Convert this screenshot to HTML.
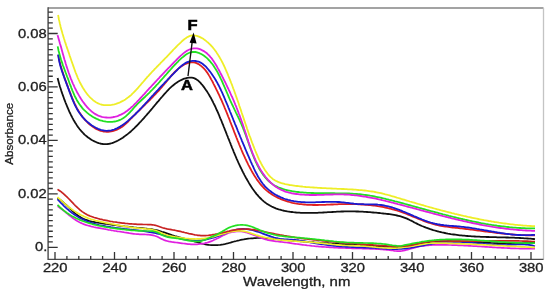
<!DOCTYPE html>
<html><head><meta charset="utf-8"><style>
html,body{margin:0;padding:0;background:#fff;width:550px;height:291px;overflow:hidden}
svg{display:block;font-family:"Liberation Sans",sans-serif}
</style></head><body>
<svg width="550" height="291" viewBox="0 0 550 291">
<rect width="550" height="291" fill="#fff"/>
<path d="M57.5 198.2L58.8 199.0 60.1 199.8 61.3 200.7 62.5 201.6 63.6 202.6 64.7 203.6 65.9 204.6 66.9 205.6 68.0 206.7 69.1 207.7 70.2 208.8 71.3 209.8 72.4 210.9 73.5 211.9 74.6 212.9 75.8 213.9 76.9 214.8 78.2 215.7 79.4 216.5 80.7 217.3 82.0 218.0 83.4 218.7 84.7 219.3 86.1 219.8 87.6 220.3 89.0 220.8 90.5 221.2 91.9 221.6 93.4 221.9 94.9 222.2 96.3 222.5 97.8 222.7 99.3 223.0 100.8 223.2 102.3 223.4 103.8 223.6 105.3 223.8 106.8 224.0 108.3 224.2 109.8 224.4 111.3 224.6 112.7 224.8 114.2 225.0 115.7 225.2 117.2 225.4 118.7 225.6 120.2 225.8 121.7 226.0 123.2 226.2 124.7 226.4 126.2 226.5 127.7 226.7 129.2 226.9 130.7 227.1 132.2 227.2 133.7 227.4 135.2 227.5 136.7 227.7 138.2 227.8 139.7 227.9 141.2 228.1 142.7 228.2 144.2 228.3 145.7 228.5 147.2 228.7 148.7 228.8 150.2 229.0 151.7 229.2 153.1 229.5 154.6 229.8 156.1 230.1 157.6 230.4 159.0 230.8 160.5 231.2 161.9 231.7 163.3 232.1 164.8 232.6 166.2 233.1 167.6 233.6 169.0 234.1 170.5 234.6 171.9 235.1 173.3 235.5 174.8 236.0 176.2 236.4 177.6 236.9 179.1 237.2 180.6 237.6 182.0 238.0 183.5 238.3 185.0 238.7 186.4 239.1 187.9 239.4 189.3 239.8 190.8 240.2 192.2 240.7 193.7 241.1 195.1 241.6 196.5 242.0 198.0 242.5 199.4 242.9 200.9 243.3 202.3 243.7 203.8 244.0 205.3 244.3 206.7 244.6 208.2 244.8 209.7 245.0 211.2 245.1 212.7 245.2 214.2 245.2 215.8 245.2 217.3 245.1 218.8 245.0 220.3 244.9 221.8 244.6 223.2 244.4 224.7 244.1 226.2 243.7 227.6 243.4 229.1 243.0 230.5 242.6 232.0 242.1 233.4 241.7 234.9 241.3 236.3 241.0 237.8 240.6 239.3 240.3 240.8 239.9 242.2 239.6 243.7 239.4 245.2 239.1 246.7 238.9 248.2 238.7 249.7 238.5 251.2 238.4 252.7 238.3 254.2 238.2 255.7 238.1 257.2 238.0 258.7 238.0 260.2 238.0 261.7 238.0 263.2 238.1 264.7 238.2 266.2 238.2 267.7 238.3 269.2 238.5 270.7 238.6 272.2 238.7 273.7 238.9 275.2 239.0 276.7 239.2 278.2 239.3 279.7 239.5 281.2 239.6 282.7 239.8 284.2 239.9 285.7 240.1 287.2 240.2 288.7 240.3 290.2 240.5 291.7 240.6 293.2 240.7 294.7 240.9 296.2 241.0 297.7 241.1 299.2 241.2 300.7 241.4 302.2 241.5 303.7 241.6 305.2 241.7 306.7 241.8 308.2 241.9 309.7 242.0 311.2 242.1 312.7 242.2 314.3 242.4 315.8 242.5 317.3 242.6 318.8 242.7 320.3 242.8 321.8 242.9 323.3 243.0 324.8 243.1 326.3 243.1 327.8 243.2 329.3 243.3 330.8 243.4 332.3 243.5 333.8 243.6 335.3 243.7 336.8 243.8 338.3 243.9 339.8 244.0 341.3 244.1 342.8 244.1 344.3 244.2 345.8 244.3 347.3 244.4 348.8 244.5 350.3 244.6 351.8 244.7 353.3 244.8 354.8 244.8 356.4 244.9 357.9 245.0 359.4 245.1 360.9 245.2 362.4 245.3 363.9 245.4 365.4 245.4 366.9 245.5 368.4 245.6 369.9 245.7 371.4 245.8 372.9 245.9 374.4 246.0 375.9 246.1 377.4 246.2 378.9 246.3 380.4 246.3 381.9 246.4 383.4 246.5 384.9 246.6 386.4 246.7 387.9 246.8 389.4 246.9 390.9 247.0 392.4 247.0 393.9 247.1 395.5 247.1 397.0 247.1 398.5 247.1 400.0 247.0 401.5 246.8 403.0 246.6 404.4 246.3 405.9 246.0 407.4 245.7 408.8 245.3 410.3 245.0 411.8 244.7 413.3 244.4 414.7 244.1 416.2 243.8 417.7 243.6 419.2 243.4 420.7 243.1 422.2 242.9 423.7 242.7 425.2 242.5 426.7 242.4 428.2 242.2 429.7 242.1 431.2 241.9 432.7 241.8 434.2 241.7 435.7 241.6 437.2 241.5 438.7 241.5 440.2 241.4 441.7 241.4 443.2 241.3 444.7 241.3 446.2 241.3 447.7 241.2 449.2 241.2 450.7 241.2 452.2 241.3 453.7 241.3 455.3 241.3 456.8 241.3 458.3 241.4 459.8 241.4 461.3 241.5 462.8 241.5 464.3 241.6 465.8 241.6 467.3 241.7 468.8 241.8 470.3 241.9 471.8 241.9 473.3 242.0 474.8 242.1 476.3 242.2 477.8 242.2 479.3 242.3 480.8 242.4 482.3 242.5 483.8 242.6 485.3 242.7 486.9 242.7 488.4 242.8 489.9 242.9 491.4 243.0 492.9 243.0 494.4 243.1 495.9 243.2 497.4 243.2 498.9 243.3 500.4 243.3 501.9 243.4 503.4 243.4 504.9 243.5 506.4 243.5 507.9 243.5 509.4 243.5 510.9 243.6 512.4 243.6 514.0 243.6 515.5 243.5 517.0 243.5 518.5 243.5 520.0 243.4 521.5 243.4 523.0 243.3 524.5 243.2 526.0 243.2 527.5 243.1 529.0 243.0 530.5 242.8 532.0 242.7 533.5 242.6 535.0 242.4" fill="none" stroke="#111111" stroke-width="1.7" stroke-linejoin="round"/>
<path d="M57.6 206.3L58.9 207.1 60.1 208.0 61.3 208.9 62.5 209.8 63.7 210.7 64.9 211.7 66.0 212.6 67.2 213.6 68.4 214.5 69.5 215.5 70.7 216.4 71.9 217.3 73.1 218.2 74.3 219.1 75.6 220.0 76.8 220.8 78.1 221.5 79.5 222.3 80.8 222.9 82.2 223.5 83.6 224.1 85.0 224.6 86.4 225.1 87.9 225.5 89.3 225.9 90.8 226.3 92.2 226.6 93.7 227.0 95.2 227.3 96.7 227.6 98.1 227.8 99.6 228.1 101.1 228.4 102.6 228.7 104.1 229.0 105.5 229.2 107.0 229.5 108.5 229.8 110.0 230.0 111.5 230.3 112.9 230.5 114.4 230.8 115.9 231.0 117.4 231.3 118.9 231.5 120.4 231.7 121.9 232.0 123.3 232.2 124.8 232.5 126.3 232.7 127.8 232.9 129.3 233.2 130.8 233.4 132.3 233.6 133.8 233.8 135.3 234.0 136.8 234.1 138.3 234.2 139.8 234.3 141.3 234.3 142.8 234.4 144.3 234.4 145.8 234.5 147.3 234.6 148.8 234.7 150.3 234.9 151.8 235.1 153.2 235.4 154.7 235.8 156.1 236.3 157.5 236.8 158.9 237.5 160.2 238.2 161.5 238.9 162.9 239.5 164.3 240.1 165.7 240.6 167.1 241.0 168.6 241.4 170.1 241.6 171.6 241.9 173.1 242.1 174.6 242.3 176.1 242.5 177.5 242.7 179.0 242.9 180.5 243.1 182.0 243.3 183.5 243.5 185.0 243.7 186.5 243.9 188.0 244.1 189.5 244.2 191.0 244.3 192.5 244.4 194.0 244.4 195.5 244.4 197.0 244.3 198.5 244.2 200.0 244.0 201.5 243.8 203.0 243.6 204.5 243.3 205.9 242.9 207.4 242.6 208.8 242.1 210.2 241.6 211.6 241.1 213.0 240.5 214.4 239.8 215.7 239.2 217.1 238.5 218.4 237.9 219.8 237.2 221.1 236.5 222.5 235.8 223.8 235.1 225.2 234.5 226.5 233.9 227.9 233.3 229.4 232.8 230.8 232.4 232.3 232.0 233.7 231.8 235.2 231.6 236.7 231.4 238.2 231.4 239.7 231.4 241.3 231.5 242.7 231.7 244.2 232.0 245.7 232.3 247.2 232.7 248.6 233.1 250.0 233.6 251.4 234.1 252.9 234.6 254.3 235.2 255.7 235.7 257.1 236.3 258.5 236.8 259.9 237.4 261.3 237.9 262.7 238.4 264.1 238.9 265.5 239.4 267.0 239.8 268.4 240.1 269.9 240.4 271.4 240.7 272.9 240.9 274.4 241.1 275.9 241.3 277.4 241.5 278.9 241.6 280.4 241.8 281.9 242.0 283.4 242.2 284.9 242.3 286.3 242.5 287.8 242.7 289.3 242.9 290.8 243.1 292.3 243.4 293.8 243.6 295.3 243.8 296.8 244.0 298.3 244.2 299.8 244.4 301.3 244.6 302.7 244.8 304.2 245.0 305.7 245.2 307.2 245.4 308.7 245.5 310.2 245.7 311.7 245.9 313.2 246.0 314.7 246.2 316.2 246.3 317.7 246.4 319.2 246.6 320.7 246.7 322.2 246.8 323.7 246.9 325.2 247.0 326.7 247.1 328.2 247.2 329.7 247.3 331.2 247.4 332.7 247.5 334.2 247.6 335.7 247.6 337.2 247.7 338.7 247.8 340.2 247.8 341.7 247.9 343.2 248.0 344.8 248.0 346.3 248.1 347.8 248.1 349.3 248.2 350.8 248.2 352.3 248.3 353.8 248.3 355.3 248.4 356.8 248.4 358.3 248.4 359.8 248.5 361.3 248.5 362.8 248.6 364.3 248.6 365.8 248.6 367.3 248.7 368.8 248.7 370.3 248.8 371.8 248.8 373.3 248.9 374.8 249.0 376.3 249.1 377.8 249.1 379.4 249.2 380.9 249.3 382.4 249.4 383.9 249.6 385.4 249.7 386.9 249.8 388.3 250.0 389.8 250.2 391.3 250.3 392.8 250.5 394.3 250.8 395.8 251.0 397.3 251.1 398.8 251.2 400.3 251.2 401.8 251.0 403.3 250.7 404.8 250.4 406.2 250.0 407.7 249.6 409.1 249.2 410.6 248.8 412.0 248.4 413.4 248.0 414.9 247.6 416.4 247.2 417.8 246.8 419.3 246.5 420.8 246.2 422.3 246.0 423.7 245.8 425.2 245.6 426.7 245.4 428.2 245.3 429.7 245.2 431.2 245.1 432.7 245.0 434.2 244.9 435.8 244.9 437.3 244.9 438.8 244.9 440.3 244.9 441.8 244.9 443.3 244.9 444.8 244.9 446.3 244.9 447.8 244.9 449.3 245.0 450.8 245.0 452.3 245.1 453.8 245.1 455.3 245.2 456.8 245.2 458.3 245.3 459.8 245.4 461.3 245.4 462.8 245.5 464.3 245.6 465.8 245.6 467.3 245.7 468.8 245.8 470.4 245.9 471.9 246.0 473.4 246.1 474.9 246.2 476.4 246.2 477.9 246.3 479.4 246.4 480.9 246.5 482.4 246.6 483.9 246.7 485.4 246.8 486.9 246.9 488.4 247.0 489.9 247.1 491.4 247.2 492.9 247.3 494.4 247.4 495.9 247.5 497.4 247.6 498.9 247.6 500.4 247.7 501.9 247.8 503.4 247.9 504.9 248.0 506.4 248.0 507.9 248.1 509.4 248.2 510.9 248.3 512.4 248.3 513.9 248.4 515.4 248.4 516.9 248.5 518.4 248.5 519.9 248.6 521.5 248.6 523.0 248.6 524.5 248.7 526.0 248.7 527.5 248.7 529.0 248.7 530.5 248.7 532.0 248.7 533.5 248.7 535.0 248.7" fill="none" stroke="#e020e0" stroke-width="1.7" stroke-linejoin="round"/>
<path d="M57.5 199.3L58.5 200.4 59.6 201.5 60.6 202.6 61.7 203.7 62.7 204.7 63.8 205.8 64.9 206.8 66.0 207.9 67.1 208.9 68.3 209.8 69.4 210.8 70.6 211.8 71.8 212.7 73.0 213.6 74.2 214.5 75.5 215.3 76.7 216.1 78.0 216.9 79.3 217.7 80.7 218.4 82.0 219.1 83.4 219.7 84.7 220.3 86.1 220.9 87.5 221.5 88.9 222.0 90.4 222.5 91.8 223.0 93.2 223.4 94.7 223.8 96.2 224.2 97.6 224.6 99.1 225.0 100.6 225.3 102.0 225.6 103.5 225.9 105.0 226.2 106.5 226.5 108.0 226.7 109.4 226.9 110.9 227.2 112.4 227.4 113.9 227.6 115.4 227.8 116.9 228.0 118.4 228.2 119.9 228.3 121.4 228.5 122.9 228.7 124.4 228.9 125.9 229.0 127.4 229.2 128.9 229.3 130.4 229.5 131.9 229.7 133.4 229.8 134.9 230.0 136.4 230.2 137.9 230.3 139.4 230.5 140.9 230.7 142.4 230.9 143.9 231.1 145.4 231.3 146.9 231.6 148.4 231.8 149.8 232.1 151.3 232.4 152.8 232.6 154.3 232.9 155.8 233.2 157.2 233.6 158.7 233.9 160.2 234.2 161.6 234.6 163.1 234.9 164.6 235.2 166.1 235.6 167.5 235.9 169.0 236.3 170.5 236.6 171.9 236.9 173.4 237.3 174.9 237.6 176.3 237.9 177.8 238.2 179.3 238.5 180.8 238.8 182.3 239.1 183.8 239.3 185.2 239.6 186.7 239.8 188.2 240.0 189.7 240.1 191.2 240.3 192.7 240.4 194.2 240.4 195.8 240.5 197.3 240.5 198.8 240.4 200.3 240.3 201.8 240.2 203.3 240.0 204.8 239.8 206.3 239.5 207.7 239.2 209.2 238.8 210.6 238.4 212.1 238.0 213.5 237.6 215.0 237.1 216.4 236.6 217.8 236.1 219.2 235.6 220.7 235.1 222.1 234.5 223.5 234.0 224.9 233.5 226.3 232.9 227.7 232.4 229.1 231.9 230.5 231.4 232.0 230.9 233.4 230.5 234.9 230.1 236.3 229.7 237.8 229.4 239.3 229.2 240.8 229.0 242.3 228.9 243.8 228.9 245.3 229.0 246.8 229.1 248.3 229.3 249.8 229.6 251.3 229.9 252.7 230.3 254.2 230.7 255.6 231.1 257.1 231.6 258.5 232.0 259.9 232.5 261.4 233.0 262.8 233.6 264.2 234.1 265.6 234.6 267.0 235.1 268.4 235.6 269.9 236.1 271.3 236.6 272.7 237.0 274.2 237.5 275.6 237.9 277.1 238.2 278.6 238.5 280.1 238.8 281.6 239.0 283.1 239.1 284.6 239.3 286.1 239.4 287.6 239.4 289.1 239.5 290.6 239.6 292.1 239.7 293.6 239.8 295.1 239.9 296.6 240.1 298.1 240.2 299.6 240.5 301.1 240.7 302.6 240.9 304.1 241.2 305.5 241.5 307.0 241.7 308.5 242.0 310.0 242.3 311.5 242.6 313.0 242.8 314.4 243.1 315.9 243.4 317.4 243.6 318.9 243.9 320.4 244.1 321.9 244.3 323.4 244.5 324.9 244.7 326.4 244.9 327.9 245.1 329.4 245.3 330.9 245.5 332.4 245.6 333.9 245.8 335.4 245.9 336.9 246.1 338.4 246.2 339.9 246.3 341.4 246.5 342.9 246.6 344.4 246.7 345.9 246.8 347.4 246.9 348.9 246.9 350.4 247.0 351.9 247.1 353.4 247.1 354.9 247.2 356.4 247.3 357.9 247.3 359.5 247.4 361.0 247.4 362.5 247.5 364.0 247.6 365.5 247.6 367.0 247.7 368.5 247.7 370.0 247.8 371.5 247.9 373.0 247.9 374.5 248.0 376.0 248.1 377.5 248.2 379.0 248.3 380.5 248.4 382.0 248.5 383.6 248.6 385.1 248.7 386.6 248.8 388.1 248.9 389.6 249.0 391.1 249.0 392.6 249.1 394.1 249.1 395.6 249.1 397.1 249.1 398.6 249.0 400.1 249.0 401.6 248.9 403.1 248.7 404.6 248.6 406.1 248.4 407.6 248.2 409.1 248.0 410.6 247.8 412.1 247.5 413.6 247.3 415.1 247.0 416.6 246.7 418.0 246.5 419.5 246.2 421.0 245.9 422.5 245.6 424.0 245.3 425.4 245.0 426.9 244.7 428.4 244.4 429.9 244.1 431.4 243.9 432.8 243.6 434.3 243.4 435.8 243.1 437.3 242.9 438.8 242.7 440.3 242.5 441.8 242.3 443.3 242.2 444.8 242.1 446.3 242.0 447.8 241.9 449.3 241.8 450.8 241.8 452.3 241.8 453.9 241.8 455.4 241.8 456.9 241.8 458.4 241.9 459.9 241.9 461.4 242.0 462.9 242.1 464.4 242.2 465.9 242.3 467.4 242.4 468.9 242.5 470.4 242.6 471.9 242.7 473.4 242.9 474.9 243.0 476.4 243.1 477.9 243.3 479.4 243.4 480.9 243.6 482.4 243.7 483.9 243.8 485.4 244.0 486.9 244.1 488.4 244.2 490.0 244.3 491.5 244.5 493.0 244.6 494.5 244.6 496.0 244.7 497.5 244.8 499.0 244.9 500.5 244.9 502.0 244.9 503.5 245.0 505.0 245.0 506.5 245.0 508.0 244.9 509.5 244.9 511.0 244.8 512.6 244.7 514.1 244.6 515.6 244.6 517.1 244.5 518.6 244.4 520.1 244.4 521.6 244.4 523.1 244.4 524.6 244.5 526.1 244.6 527.6 244.7 529.1 244.9 530.6 245.1 532.1 245.4 533.5 245.8 535.0 246.2" fill="none" stroke="#1a1ad0" stroke-width="1.7" stroke-linejoin="round"/>
<path d="M57.5 197.0L58.6 198.1 59.7 199.2 60.8 200.2 61.9 201.2 63.0 202.2 64.1 203.2 65.2 204.2 66.4 205.2 67.6 206.1 68.8 207.1 70.0 208.0 71.2 208.9 72.4 209.7 73.6 210.6 74.9 211.4 76.2 212.2 77.5 213.0 78.8 213.7 80.1 214.5 81.4 215.2 82.8 215.8 84.2 216.5 85.5 217.1 86.9 217.6 88.3 218.2 89.8 218.7 91.2 219.2 92.6 219.6 94.1 220.0 95.5 220.5 97.0 220.8 98.4 221.2 99.9 221.5 101.4 221.9 102.8 222.2 104.3 222.5 105.8 222.8 107.3 223.1 108.8 223.4 110.2 223.7 111.7 224.0 113.2 224.2 114.7 224.5 116.1 224.8 117.6 225.1 119.1 225.4 120.6 225.7 122.1 225.9 123.6 226.2 125.0 226.5 126.5 226.7 128.0 226.9 129.5 227.2 131.0 227.4 132.5 227.6 134.0 227.8 135.5 227.9 137.0 228.1 138.5 228.2 140.0 228.3 141.5 228.5 143.0 228.6 144.5 228.7 146.0 228.9 147.5 229.0 149.0 229.2 150.5 229.4 152.0 229.7 153.4 230.0 154.9 230.4 156.3 230.9 157.7 231.4 159.1 232.0 160.5 232.6 161.9 233.2 163.3 233.8 164.7 234.3 166.1 234.8 167.5 235.3 169.0 235.7 170.5 236.0 171.9 236.3 173.4 236.6 174.9 236.9 176.4 237.1 177.9 237.4 179.4 237.6 180.8 237.8 182.3 238.0 183.8 238.2 185.3 238.4 186.8 238.5 188.3 238.6 189.8 238.8 191.3 238.8 192.8 238.9 194.3 238.9 195.9 239.0 197.4 238.9 198.9 238.9 200.4 238.8 201.9 238.7 203.4 238.6 204.9 238.4 206.4 238.2 207.9 238.0 209.3 237.7 210.8 237.3 212.3 237.0 213.7 236.6 215.2 236.2 216.6 235.8 218.1 235.3 219.5 234.9 220.9 234.4 222.4 234.0 223.8 233.6 225.3 233.2 226.7 232.8 228.2 232.4 229.7 232.0 231.1 231.7 232.6 231.5 234.1 231.2 235.6 231.1 237.1 230.9 238.6 230.9 240.1 230.9 241.6 231.0 243.1 231.1 244.6 231.3 246.1 231.7 247.5 232.0 249.0 232.5 250.4 233.0 251.8 233.5 253.2 234.0 254.7 234.5 256.1 235.0 257.5 235.4 259.0 235.9 260.4 236.3 261.9 236.7 263.3 237.0 264.8 237.4 266.3 237.7 267.7 238.0 269.2 238.3 270.7 238.6 272.2 238.8 273.7 239.0 275.2 239.3 276.7 239.5 278.2 239.6 279.7 239.8 281.2 240.0 282.7 240.1 284.2 240.3 285.7 240.4 287.2 240.6 288.7 240.7 290.2 240.8 291.7 240.9 293.2 241.0 294.7 241.1 296.2 241.2 297.7 241.3 299.2 241.4 300.7 241.5 302.2 241.6 303.7 241.7 305.2 241.8 306.7 241.9 308.2 242.0 309.7 242.1 311.2 242.2 312.7 242.3 314.2 242.5 315.7 242.6 317.2 242.8 318.7 242.9 320.2 243.1 321.7 243.2 323.2 243.4 324.7 243.6 326.2 243.7 327.7 243.9 329.2 244.0 330.7 244.2 332.2 244.4 333.7 244.5 335.2 244.7 336.7 244.8 338.2 244.9 339.7 245.1 341.2 245.2 342.7 245.3 344.2 245.4 345.7 245.5 347.2 245.5 348.7 245.6 350.2 245.6 351.7 245.7 353.2 245.7 354.7 245.8 356.2 245.8 357.8 245.9 359.3 245.9 360.8 246.0 362.3 246.0 363.8 246.1 365.3 246.2 366.8 246.3 368.3 246.4 369.8 246.6 371.3 246.7 372.8 246.9 374.3 247.0 375.8 247.2 377.3 247.3 378.8 247.5 380.3 247.6 381.8 247.7 383.3 247.9 384.8 248.0 386.3 248.0 387.8 248.1 389.3 248.2 390.8 248.2 392.3 248.2 393.8 248.1 395.3 248.1 396.8 248.0 398.3 247.9 399.8 247.7 401.3 247.6 402.8 247.4 404.3 247.2 405.8 247.0 407.3 246.8 408.8 246.6 410.3 246.4 411.8 246.1 413.3 245.9 414.7 245.6 416.2 245.4 417.7 245.1 419.2 244.9 420.7 244.6 422.2 244.4 423.7 244.1 425.1 243.9 426.6 243.7 428.1 243.5 429.6 243.4 431.1 243.2 432.6 243.1 434.2 243.1 435.7 243.1 437.2 243.1 438.7 243.1 440.2 243.1 441.7 243.1 443.2 243.2 444.7 243.2 446.2 243.2 447.7 243.3 449.2 243.3 450.7 243.4 452.2 243.4 453.7 243.5 455.2 243.5 456.7 243.6 458.2 243.7 459.8 243.7 461.3 243.8 462.8 243.8 464.3 243.9 465.8 244.0 467.3 244.0 468.8 244.1 470.3 244.2 471.8 244.2 473.3 244.3 474.8 244.4 476.3 244.4 477.8 244.5 479.3 244.6 480.8 244.7 482.3 244.7 483.8 244.8 485.3 244.9 486.8 245.0 488.4 245.0 489.9 245.1 491.4 245.2 492.9 245.3 494.4 245.3 495.9 245.4 497.4 245.5 498.9 245.6 500.4 245.7 501.9 245.7 503.4 245.8 504.9 245.9 506.4 246.0 507.9 246.1 509.4 246.1 510.9 246.2 512.4 246.3 513.9 246.4 515.4 246.4 516.9 246.5 518.4 246.6 520.0 246.7 521.5 246.8 523.0 246.8 524.5 246.9 526.0 247.0 527.5 247.1 529.0 247.1 530.5 247.2 532.0 247.3 533.5 247.3 535.0 247.4" fill="none" stroke="#eeee28" stroke-width="1.7" stroke-linejoin="round"/>
<path d="M57.5 189.4L58.8 190.2 60.0 191.0 61.3 191.9 62.4 192.9 63.6 193.8 64.7 194.8 65.8 195.9 66.9 196.9 68.0 198.0 69.0 199.0 70.1 200.1 71.1 201.2 72.2 202.3 73.2 203.4 74.2 204.5 75.3 205.6 76.4 206.6 77.5 207.7 78.6 208.7 79.7 209.7 80.9 210.6 82.1 211.6 83.3 212.4 84.6 213.3 85.9 214.0 87.2 214.7 88.6 215.4 90.0 216.0 91.4 216.5 92.8 217.0 94.2 217.5 95.7 217.9 97.1 218.3 98.6 218.7 100.0 219.1 101.5 219.4 103.0 219.8 104.4 220.1 105.9 220.4 107.4 220.7 108.9 221.0 110.4 221.3 111.9 221.5 113.3 221.8 114.8 222.0 116.3 222.2 117.8 222.5 119.3 222.7 120.8 222.9 122.3 223.1 123.8 223.2 125.3 223.4 126.8 223.5 128.3 223.7 129.8 223.8 131.3 223.9 132.8 224.0 134.3 224.1 135.8 224.2 137.3 224.3 138.8 224.3 140.3 224.4 141.9 224.4 143.4 224.5 144.9 224.5 146.4 224.5 147.9 224.6 149.4 224.6 150.9 224.7 152.4 224.8 153.9 225.0 155.4 225.3 156.8 225.7 158.3 226.2 159.7 226.7 161.1 227.2 162.5 227.7 164.0 228.1 165.4 228.5 166.9 228.9 168.4 229.2 169.9 229.4 171.3 229.7 172.8 230.0 174.3 230.2 175.8 230.5 177.3 230.8 178.8 231.1 180.2 231.4 181.7 231.8 183.2 232.1 184.6 232.5 186.1 232.8 187.6 233.2 189.0 233.6 190.5 233.9 192.0 234.2 193.4 234.5 194.9 234.8 196.4 235.0 197.9 235.3 199.4 235.4 200.9 235.6 202.4 235.6 203.9 235.6 205.4 235.6 206.9 235.5 208.4 235.4 209.9 235.2 211.4 235.0 212.9 234.7 214.4 234.5 215.9 234.2 217.4 233.9 218.8 233.5 220.3 233.2 221.8 232.8 223.2 232.5 224.7 232.1 226.2 231.8 227.6 231.4 229.1 231.1 230.6 230.7 232.0 230.4 233.5 230.1 235.0 229.9 236.5 229.6 238.0 229.4 239.5 229.3 241.0 229.1 242.5 229.0 244.0 229.0 245.5 229.0 247.0 229.1 248.5 229.2 250.0 229.3 251.5 229.5 253.0 229.7 254.5 229.9 256.0 230.1 257.5 230.4 259.0 230.6 260.5 230.9 261.9 231.2 263.4 231.5 264.9 231.8 266.4 232.2 267.8 232.5 269.3 232.8 270.8 233.1 272.3 233.4 273.8 233.7 275.2 234.0 276.7 234.3 278.2 234.6 279.7 234.9 281.2 235.1 282.6 235.4 284.1 235.7 285.6 235.9 287.1 236.2 288.6 236.4 290.1 236.6 291.6 236.9 293.1 237.1 294.6 237.3 296.1 237.5 297.5 237.8 299.0 238.0 300.5 238.2 302.0 238.4 303.5 238.6 305.0 238.8 306.5 239.0 308.0 239.1 309.5 239.3 311.0 239.5 312.5 239.7 314.0 239.9 315.5 240.0 317.0 240.2 318.5 240.4 320.0 240.5 321.5 240.7 323.0 240.8 324.5 241.0 326.0 241.1 327.5 241.3 329.0 241.4 330.5 241.5 332.0 241.7 333.5 241.8 335.0 242.0 336.5 242.1 338.0 242.2 339.5 242.3 341.0 242.5 342.5 242.6 344.0 242.7 345.5 242.8 347.0 243.0 348.6 243.1 350.1 243.2 351.6 243.3 353.1 243.4 354.6 243.5 356.1 243.7 357.6 243.8 359.1 243.9 360.6 244.0 362.1 244.1 363.6 244.2 365.1 244.3 366.6 244.5 368.1 244.6 369.6 244.7 371.1 244.8 372.6 244.9 374.1 245.0 375.6 245.1 377.1 245.3 378.6 245.4 380.1 245.5 381.6 245.6 383.1 245.7 384.6 245.8 386.2 245.9 387.7 246.0 389.2 246.1 390.7 246.2 392.2 246.3 393.7 246.3 395.2 246.3 396.7 246.4 398.2 246.3 399.7 246.3 401.2 246.3 402.7 246.2 404.2 246.1 405.7 246.0 407.2 245.8 408.7 245.6 410.2 245.4 411.7 245.1 413.2 244.8 414.7 244.5 416.1 244.2 417.6 243.9 419.1 243.5 420.6 243.2 422.0 242.9 423.5 242.6 425.0 242.3 426.5 242.0 428.0 241.7 429.4 241.5 430.9 241.3 432.4 241.2 434.0 241.1 435.5 241.0 437.0 241.0 438.5 241.0 440.0 241.0 441.5 241.0 443.0 241.0 444.5 241.0 446.0 241.0 447.5 241.0 449.0 241.1 450.5 241.1 452.1 241.1 453.6 241.1 455.1 241.1 456.6 241.1 458.1 241.1 459.6 241.1 461.1 241.1 462.6 241.1 464.1 241.1 465.6 241.1 467.1 241.1 468.6 241.1 470.2 241.1 471.7 241.1 473.2 241.1 474.7 241.1 476.2 241.1 477.7 241.1 479.2 241.1 480.7 241.1 482.2 241.0 483.7 241.0 485.2 241.0 486.7 241.0 488.3 241.0 489.8 240.9 491.3 240.9 492.8 240.9 494.3 240.9 495.8 240.9 497.3 240.8 498.8 240.8 500.3 240.8 501.8 240.8 503.3 240.8 504.9 240.8 506.4 240.8 507.9 240.8 509.4 240.8 510.9 240.8 512.4 240.8 513.9 240.8 515.4 240.9 516.9 240.9 518.4 240.9 519.9 241.0 521.4 241.0 522.9 241.1 524.5 241.1 526.0 241.2 527.5 241.2 529.0 241.3 530.5 241.4 532.0 241.5 533.5 241.6 535.0 241.7" fill="none" stroke="#c82222" stroke-width="1.7" stroke-linejoin="round"/>
<path d="M57.5 204.8L58.6 205.9 59.6 206.9 60.7 208.0 61.9 209.0 63.0 209.9 64.2 210.9 65.4 211.8 66.6 212.7 67.9 213.5 69.1 214.3 70.4 215.1 71.7 215.9 73.0 216.6 74.4 217.3 75.7 218.0 77.1 218.6 78.4 219.3 79.8 219.9 81.2 220.4 82.6 221.0 84.0 221.5 85.5 222.0 86.9 222.5 88.3 222.9 89.8 223.4 91.2 223.8 92.7 224.2 94.1 224.6 95.6 224.9 97.1 225.3 98.5 225.6 100.0 225.9 101.5 226.2 103.0 226.5 104.5 226.8 105.9 227.0 107.4 227.3 108.9 227.5 110.4 227.8 111.9 228.0 113.4 228.2 114.9 228.4 116.4 228.6 117.9 228.8 119.4 229.0 120.9 229.1 122.4 229.3 123.9 229.5 125.4 229.6 126.9 229.8 128.4 230.0 129.9 230.1 131.4 230.3 132.9 230.4 134.4 230.5 135.9 230.6 137.4 230.7 138.9 230.8 140.4 230.9 141.9 230.9 143.4 231.0 144.9 231.0 146.4 231.0 147.9 231.0 149.4 231.0 150.9 231.1 152.4 231.2 153.9 231.5 155.4 231.8 156.8 232.3 158.2 232.9 159.5 233.6 160.9 234.4 162.2 235.1 163.5 235.8 164.9 236.3 166.4 236.8 167.8 237.2 169.3 237.4 170.8 237.6 172.3 237.8 173.8 238.0 175.3 238.1 176.8 238.3 178.3 238.5 179.8 238.8 181.3 239.1 182.7 239.4 184.2 239.7 185.7 240.0 187.2 240.3 188.6 240.6 190.1 240.8 191.6 241.0 193.1 241.2 194.6 241.4 196.1 241.4 197.6 241.4 199.1 241.3 200.6 241.1 202.1 240.8 203.5 240.3 205.0 239.8 206.4 239.2 207.7 238.6 209.1 238.0 210.5 237.3 211.8 236.7 213.2 236.1 214.6 235.5 216.0 234.9 217.3 234.2 218.7 233.5 220.0 232.8 221.3 232.1 222.6 231.3 223.9 230.5 225.2 229.8 226.5 229.0 227.8 228.3 229.2 227.6 230.6 227.0 232.0 226.5 233.4 226.1 234.9 225.7 236.4 225.4 237.8 225.1 239.3 225.0 240.9 224.9 242.4 224.9 243.9 225.0 245.4 225.1 246.9 225.4 248.3 225.7 249.8 226.1 251.2 226.5 252.6 227.0 254.0 227.6 255.4 228.2 256.8 228.8 258.2 229.4 259.6 230.0 261.0 230.5 262.4 231.1 263.8 231.6 265.2 232.2 266.6 232.6 268.1 233.1 269.5 233.5 271.0 233.9 272.4 234.3 273.9 234.7 275.4 235.0 276.8 235.3 278.3 235.6 279.8 235.8 281.3 236.0 282.8 236.2 284.3 236.4 285.8 236.6 287.3 236.7 288.8 236.8 290.3 237.0 291.8 237.1 293.3 237.2 294.8 237.4 296.3 237.5 297.8 237.6 299.3 237.7 300.8 237.9 302.3 238.0 303.8 238.1 305.3 238.3 306.8 238.4 308.3 238.5 309.8 238.7 311.3 238.8 312.8 239.0 314.3 239.1 315.8 239.3 317.3 239.5 318.8 239.6 320.3 239.8 321.8 240.0 323.3 240.2 324.8 240.4 326.3 240.5 327.8 240.7 329.3 240.9 330.8 241.0 332.3 241.2 333.8 241.4 335.3 241.5 336.8 241.7 338.3 241.8 339.8 242.0 341.3 242.1 342.8 242.2 344.3 242.3 345.8 242.4 347.3 242.5 348.8 242.5 350.3 242.6 351.9 242.7 353.4 242.7 354.9 242.8 356.4 242.8 357.9 242.8 359.4 242.9 360.9 242.9 362.4 242.9 363.9 243.0 365.4 243.0 366.9 243.0 368.4 243.1 369.9 243.1 371.5 243.2 373.0 243.2 374.5 243.3 376.0 243.4 377.5 243.5 379.0 243.6 380.5 243.7 382.0 243.8 383.5 244.0 385.0 244.1 386.5 244.3 388.0 244.5 389.5 244.8 391.0 245.0 392.4 245.3 393.9 245.5 395.4 245.7 396.9 245.9 398.4 246.0 399.9 246.0 401.4 245.8 402.9 245.5 404.4 245.2 405.9 244.9 407.3 244.6 408.8 244.3 410.3 244.0 411.8 243.7 413.2 243.4 414.7 243.1 416.2 242.8 417.7 242.5 419.2 242.3 420.7 242.0 422.1 241.7 423.6 241.5 425.1 241.3 426.6 241.1 428.1 240.9 429.6 240.7 431.1 240.5 432.6 240.3 434.1 240.2 435.6 240.0 437.1 239.9 438.6 239.8 440.1 239.7 441.6 239.6 443.1 239.5 444.6 239.5 446.1 239.4 447.6 239.4 449.2 239.4 450.7 239.3 452.2 239.3 453.7 239.3 455.2 239.3 456.7 239.3 458.2 239.4 459.7 239.4 461.2 239.4 462.7 239.5 464.2 239.5 465.7 239.6 467.2 239.7 468.8 239.7 470.3 239.8 471.8 239.9 473.3 240.0 474.8 240.1 476.3 240.2 477.8 240.3 479.3 240.4 480.8 240.5 482.3 240.6 483.8 240.7 485.3 240.8 486.8 240.9 488.3 241.0 489.8 241.1 491.3 241.2 492.8 241.3 494.3 241.4 495.8 241.6 497.3 241.7 498.8 241.8 500.3 241.9 501.8 242.0 503.4 242.1 504.9 242.2 506.4 242.3 507.9 242.4 509.4 242.5 510.9 242.5 512.4 242.6 513.9 242.7 515.4 242.8 516.9 242.8 518.4 242.9 519.9 242.9 521.4 243.0 522.9 243.0 524.4 243.1 525.9 243.1 527.5 243.1 529.0 243.1 530.5 243.1 532.0 243.1 533.5 243.1 535.0 243.0" fill="none" stroke="#22e022" stroke-width="1.7" stroke-linejoin="round"/>
<path d="M57.6 78.1L58.0 79.6 58.4 81.0 58.8 82.5 59.2 83.9 59.6 85.4 60.0 86.8 60.5 88.3 61.0 89.7 61.4 91.1 61.9 92.6 62.4 94.0 62.9 95.4 63.4 96.8 63.9 98.2 64.4 99.7 65.0 101.1 65.5 102.5 66.1 103.9 66.7 105.3 67.2 106.7 67.8 108.0 68.4 109.4 69.0 110.8 69.6 112.2 70.3 113.5 70.9 114.9 71.6 116.2 72.3 117.6 73.0 118.9 73.7 120.2 74.5 121.5 75.2 122.8 76.1 124.1 76.9 125.4 77.7 126.6 78.6 127.8 79.5 129.0 80.5 130.2 81.5 131.3 82.5 132.4 83.5 133.5 84.6 134.6 85.8 135.6 86.9 136.5 88.1 137.5 89.3 138.3 90.6 139.2 91.8 140.0 93.2 140.7 94.5 141.4 95.9 142.0 97.3 142.6 98.7 143.1 100.1 143.5 101.6 143.8 103.1 144.0 104.6 144.1 106.1 144.1 107.6 144.0 109.1 143.8 110.6 143.5 112.0 143.1 113.4 142.6 114.8 142.0 116.2 141.4 117.6 140.7 118.9 140.0 120.2 139.3 121.5 138.5 122.8 137.7 124.0 136.8 125.2 135.9 126.4 135.0 127.6 134.1 128.8 133.1 129.9 132.2 131.1 131.2 132.2 130.2 133.3 129.1 134.4 128.1 135.4 127.0 136.5 126.0 137.6 124.9 138.6 123.8 139.6 122.7 140.7 121.6 141.7 120.5 142.7 119.4 143.7 118.3 144.7 117.1 145.7 116.0 146.7 114.9 147.7 113.7 148.7 112.6 149.6 111.5 150.6 110.3 151.6 109.2 152.6 108.0 153.5 106.8 154.5 105.7 155.5 104.5 156.4 103.4 157.4 102.2 158.4 101.1 159.4 99.9 160.3 98.8 161.3 97.6 162.3 96.5 163.3 95.3 164.3 94.2 165.3 93.1 166.3 92.0 167.3 90.9 168.3 89.8 169.4 88.7 170.5 87.7 171.6 86.7 172.7 85.7 173.9 84.7 175.1 83.8 176.3 82.9 177.6 82.0 178.8 81.3 180.2 80.5 181.5 79.9 182.9 79.2 184.3 78.7 185.7 78.3 187.2 77.9 188.7 77.7 190.2 77.6 191.7 77.6 193.2 77.9 194.6 78.4 195.9 79.1 197.2 79.9 198.4 80.8 199.5 81.9 200.5 82.9 201.5 84.1 202.5 85.2 203.4 86.4 204.3 87.6 205.2 88.9 206.0 90.1 206.9 91.3 207.7 92.6 208.5 93.9 209.3 95.2 210.0 96.5 210.8 97.8 211.5 99.1 212.2 100.5 212.9 101.8 213.5 103.1 214.2 104.5 214.9 105.8 215.5 107.2 216.1 108.6 216.7 110.0 217.4 111.3 218.0 112.7 218.6 114.1 219.2 115.5 219.7 116.9 220.3 118.3 220.9 119.6 221.5 121.0 222.0 122.4 222.6 123.8 223.2 125.2 223.7 126.6 224.3 128.0 224.8 129.4 225.4 130.8 225.9 132.2 226.5 133.6 227.0 135.0 227.6 136.4 228.1 137.8 228.7 139.2 229.3 140.6 229.8 142.0 230.4 143.4 230.9 144.8 231.5 146.2 232.0 147.6 232.6 149.0 233.2 150.4 233.7 151.8 234.3 153.2 234.9 154.6 235.5 156.0 236.1 157.4 236.7 158.8 237.3 160.1 237.9 161.5 238.5 162.9 239.2 164.3 239.8 165.6 240.4 167.0 241.1 168.3 241.8 169.7 242.4 171.0 243.1 172.4 243.8 173.7 244.5 175.1 245.2 176.4 245.9 177.7 246.7 179.0 247.4 180.3 248.2 181.6 248.9 182.9 249.7 184.2 250.5 185.5 251.3 186.8 252.1 188.0 253.0 189.3 253.9 190.5 254.8 191.7 255.7 192.9 256.6 194.1 257.6 195.2 258.6 196.4 259.6 197.5 260.7 198.5 261.8 199.6 262.9 200.6 264.0 201.6 265.2 202.5 266.4 203.4 267.7 204.2 269.0 205.0 270.3 205.8 271.6 206.5 273.0 207.1 274.3 207.7 275.7 208.3 277.2 208.8 278.6 209.3 280.0 209.7 281.5 210.1 282.9 210.5 284.4 210.8 285.9 211.1 287.4 211.4 288.9 211.6 290.3 211.8 291.8 212.0 293.3 212.2 294.8 212.3 296.3 212.5 297.8 212.6 299.3 212.7 300.8 212.8 302.4 212.8 303.9 212.9 305.4 212.9 306.9 212.9 308.4 212.9 309.9 212.9 311.4 212.9 312.9 212.9 314.4 212.9 315.9 212.8 317.4 212.8 318.9 212.7 320.4 212.6 321.9 212.6 323.4 212.5 324.9 212.4 326.4 212.3 327.9 212.2 329.4 212.2 331.0 212.1 332.5 212.0 334.0 211.9 335.5 211.8 337.0 211.7 338.5 211.7 340.0 211.6 341.5 211.5 343.0 211.5 344.5 211.4 346.0 211.4 347.5 211.4 349.0 211.4 350.5 211.4 352.0 211.4 353.5 211.4 355.0 211.4 356.5 211.5 358.1 211.5 359.6 211.6 361.1 211.6 362.6 211.7 364.1 211.8 365.6 211.9 367.1 212.0 368.6 212.1 370.1 212.2 371.6 212.4 373.1 212.5 374.6 212.6 376.1 212.7 377.6 212.9 379.1 213.0 380.6 213.2 382.1 213.3 383.6 213.5 385.1 213.6 386.6 213.8 388.1 214.0 389.6 214.2 391.1 214.4 392.5 214.6 394.0 214.9 395.5 215.2 397.0 215.5 398.4 215.8 399.9 216.2 401.4 216.6 402.8 217.1 404.2 217.6 405.6 218.1 407.0 218.7 408.4 219.3 409.7 220.0 411.1 220.6 412.4 221.3 413.7 222.1 415.1 222.8 416.4 223.4 417.8 224.1 419.1 224.7 420.5 225.4 421.9 226.0 423.3 226.5 424.7 227.1 426.1 227.7 427.5 228.2 428.9 228.7 430.3 229.2 431.8 229.6 433.2 230.1 434.7 230.5 436.1 230.9 437.6 231.3 439.0 231.7 440.5 232.0 442.0 232.4 443.4 232.7 444.9 233.0 446.4 233.3 447.9 233.6 449.4 233.8 450.8 234.1 452.3 234.3 453.8 234.5 455.3 234.7 456.8 234.9 458.3 235.1 459.8 235.3 461.3 235.4 462.8 235.6 464.3 235.7 465.8 235.9 467.3 236.0 468.8 236.1 470.3 236.2 471.8 236.3 473.3 236.4 474.8 236.5 476.3 236.6 477.8 236.7 479.3 236.7 480.8 236.8 482.3 236.8 483.8 236.9 485.3 236.9 486.8 237.0 488.4 237.0 489.9 237.1 491.4 237.1 492.9 237.1 494.4 237.2 495.9 237.2 497.4 237.3 498.9 237.3 500.4 237.3 501.9 237.4 503.4 237.4 504.9 237.4 506.4 237.5 507.9 237.5 509.4 237.6 510.9 237.6 512.4 237.7 514.0 237.7 515.5 237.8 517.0 237.8 518.5 237.9 520.0 238.0 521.5 238.1 523.0 238.2 524.5 238.3 526.0 238.4 527.5 238.5 529.0 238.6 530.5 238.7 532.0 238.9 533.5 239.0 535.0 239.2" fill="none" stroke="#111111" stroke-width="1.8" stroke-linejoin="round"/>
<path d="M58.2 54.9L58.5 56.4 58.8 57.9 59.1 59.4 59.4 60.8 59.8 62.3 60.2 63.8 60.5 65.2 61.0 66.7 61.4 68.1 61.8 69.5 62.3 71.0 62.7 72.4 63.2 73.8 63.7 75.3 64.2 76.7 64.7 78.1 65.2 79.5 65.7 80.9 66.2 82.3 66.8 83.7 67.3 85.1 67.8 86.6 68.3 88.0 68.9 89.4 69.4 90.8 69.9 92.2 70.5 93.6 71.0 95.0 71.6 96.4 72.1 97.8 72.7 99.2 73.3 100.6 73.9 101.9 74.5 103.3 75.2 104.7 75.8 106.0 76.5 107.4 77.2 108.7 78.0 110.0 78.7 111.3 79.5 112.6 80.4 113.8 81.2 115.1 82.1 116.3 83.0 117.5 84.0 118.6 85.0 119.8 86.0 120.9 87.0 121.9 88.1 123.0 89.2 124.0 90.4 125.0 91.6 125.9 92.8 126.8 94.0 127.6 95.3 128.4 96.6 129.1 98.0 129.7 99.4 130.3 100.8 130.8 102.3 131.2 103.7 131.5 105.2 131.7 106.7 131.8 108.2 131.8 109.7 131.6 111.2 131.4 112.7 131.1 114.1 130.7 115.6 130.2 117.0 129.6 118.3 129.0 119.7 128.3 120.9 127.5 122.2 126.7 123.4 125.8 124.5 124.8 125.7 123.8 126.8 122.8 127.9 121.8 128.9 120.7 130.0 119.6 131.0 118.5 132.1 117.5 133.1 116.4 134.2 115.3 135.3 114.3 136.3 113.2 137.4 112.2 138.5 111.1 139.6 110.0 140.6 109.0 141.7 107.9 142.8 106.9 143.8 105.8 144.9 104.8 146.0 103.7 147.1 102.7 148.1 101.6 149.2 100.5 150.3 99.5 151.3 98.4 152.4 97.3 153.4 96.2 154.4 95.2 155.5 94.1 156.5 93.0 157.5 91.9 158.6 90.8 159.6 89.6 160.6 88.5 161.6 87.4 162.5 86.3 163.5 85.1 164.5 84.0 165.4 82.8 166.4 81.6 167.3 80.5 168.3 79.3 169.3 78.2 170.2 77.0 171.2 75.9 172.2 74.7 173.2 73.6 174.3 72.5 175.3 71.5 176.4 70.4 177.5 69.4 178.7 68.4 179.8 67.5 181.1 66.6 182.3 65.8 183.6 65.0 184.9 64.3 186.3 63.6 187.7 63.1 189.1 62.7 190.6 62.4 192.1 62.3 193.6 62.4 195.1 62.7 196.5 63.2 197.9 63.8 199.2 64.6 200.4 65.4 201.6 66.4 202.7 67.4 203.8 68.4 204.8 69.5 205.8 70.7 206.7 71.9 207.5 73.1 208.4 74.4 209.1 75.6 209.9 76.9 210.6 78.3 211.3 79.6 212.1 80.9 212.8 82.2 213.4 83.6 214.1 84.9 214.8 86.3 215.5 87.6 216.1 88.9 216.8 90.3 217.5 91.7 218.1 93.0 218.8 94.4 219.4 95.7 220.0 97.1 220.6 98.5 221.3 99.8 221.9 101.2 222.5 102.6 223.1 104.0 223.7 105.4 224.3 106.7 224.8 108.1 225.4 109.5 226.0 110.9 226.6 112.3 227.1 113.7 227.7 115.1 228.2 116.5 228.8 117.9 229.4 119.3 229.9 120.7 230.4 122.1 231.0 123.5 231.5 124.9 232.1 126.3 232.6 127.7 233.2 129.1 233.7 130.5 234.2 131.9 234.8 133.3 235.3 134.7 235.9 136.1 236.4 137.5 237.0 138.9 237.5 140.3 238.1 141.7 238.7 143.1 239.2 144.5 239.8 145.9 240.4 147.3 241.0 148.7 241.5 150.0 242.1 151.4 242.7 152.8 243.3 154.2 244.0 155.6 244.6 156.9 245.2 158.3 245.9 159.7 246.5 161.0 247.2 162.4 247.8 163.7 248.5 165.1 249.2 166.4 249.9 167.7 250.6 169.0 251.3 170.4 252.1 171.7 252.8 173.0 253.6 174.3 254.3 175.6 255.1 176.8 256.0 178.1 256.8 179.4 257.7 180.6 258.6 181.8 259.5 183.0 260.4 184.2 261.4 185.3 262.4 186.4 263.4 187.5 264.5 188.6 265.6 189.6 266.7 190.6 267.9 191.5 269.1 192.5 270.3 193.3 271.6 194.2 272.8 195.0 274.1 195.8 275.4 196.5 276.8 197.2 278.1 197.9 279.5 198.5 280.9 199.1 282.2 199.7 283.6 200.2 285.1 200.7 286.5 201.2 287.9 201.6 289.4 202.0 290.8 202.4 292.3 202.8 293.8 203.1 295.2 203.4 296.7 203.6 298.2 203.9 299.7 204.1 301.2 204.2 302.7 204.4 304.2 204.5 305.7 204.7 307.2 204.8 308.7 204.8 310.2 204.9 311.7 204.9 313.2 205.0 314.7 205.0 316.2 205.0 317.7 205.0 319.2 204.9 320.7 204.9 322.2 204.9 323.7 204.8 325.2 204.8 326.7 204.7 328.2 204.7 329.7 204.6 331.2 204.5 332.8 204.5 334.3 204.4 335.8 204.3 337.3 204.3 338.8 204.2 340.3 204.2 341.8 204.2 343.3 204.1 344.8 204.1 346.3 204.1 347.8 204.1 349.3 204.1 350.8 204.1 352.3 204.1 353.8 204.2 355.3 204.2 356.8 204.2 358.3 204.3 359.8 204.4 361.3 204.5 362.8 204.5 364.3 204.7 365.8 204.8 367.3 204.9 368.8 205.0 370.3 205.2 371.8 205.4 373.3 205.5 374.8 205.7 376.3 205.9 377.8 206.2 379.3 206.4 380.7 206.7 382.2 206.9 383.7 207.2 385.2 207.5 386.6 207.8 388.1 208.2 389.6 208.5 391.0 208.9 392.5 209.3 393.9 209.7 395.4 210.1 396.8 210.5 398.2 211.0 399.7 211.4 401.1 211.9 402.5 212.4 403.9 213.0 405.3 213.5 406.7 214.0 408.1 214.6 409.5 215.2 410.9 215.7 412.3 216.3 413.7 216.9 415.1 217.4 416.5 218.0 417.9 218.6 419.3 219.1 420.7 219.7 422.1 220.2 423.5 220.8 424.9 221.3 426.3 221.8 427.7 222.3 429.2 222.8 430.6 223.2 432.0 223.7 433.5 224.1 434.9 224.5 436.4 224.8 437.9 225.2 439.3 225.5 440.8 225.8 442.3 226.0 443.8 226.3 445.3 226.5 446.7 226.7 448.2 226.9 449.7 227.1 451.2 227.3 452.7 227.5 454.2 227.6 455.7 227.8 457.2 227.9 458.7 228.1 460.2 228.3 461.7 228.4 463.2 228.6 464.7 228.8 466.2 229.0 467.7 229.1 469.2 229.3 470.6 229.5 472.1 229.7 473.6 229.9 475.1 230.1 476.6 230.3 478.1 230.5 479.6 230.7 481.1 230.9 482.6 231.1 484.1 231.3 485.6 231.5 487.1 231.6 488.5 231.8 490.0 232.0 491.5 232.2 493.0 232.4 494.5 232.6 496.0 232.8 497.5 233.0 499.0 233.1 500.5 233.3 502.0 233.5 503.5 233.6 505.0 233.8 506.5 233.9 508.0 234.1 509.5 234.2 511.0 234.4 512.5 234.5 514.0 234.6 515.5 234.7 517.0 234.8 518.5 234.9 520.0 235.0 521.5 235.1 523.0 235.2 524.5 235.2 526.0 235.3 527.5 235.3 529.0 235.4 530.5 235.4 532.0 235.4 533.5 235.4 535.0 235.4" fill="none" stroke="#e02020" stroke-width="1.8" stroke-linejoin="round"/>
<path d="M58.2 54.5L58.4 56.0 58.6 57.4 58.8 58.9 59.1 60.4 59.4 61.9 59.8 63.4 60.1 64.8 60.5 66.3 60.9 67.7 61.4 69.2 61.8 70.6 62.3 72.0 62.8 73.5 63.3 74.9 63.8 76.3 64.3 77.7 64.8 79.1 65.3 80.5 65.9 81.9 66.4 83.4 66.9 84.8 67.5 86.2 68.0 87.6 68.5 89.0 69.0 90.4 69.5 91.8 70.1 93.2 70.6 94.6 71.1 96.0 71.7 97.5 72.2 98.9 72.8 100.2 73.4 101.6 74.0 103.0 74.6 104.4 75.3 105.7 76.0 107.1 76.7 108.4 77.4 109.7 78.2 111.0 79.0 112.3 79.9 113.5 80.8 114.7 81.7 115.9 82.6 117.1 83.6 118.2 84.7 119.3 85.7 120.4 86.8 121.4 88.0 122.4 89.1 123.3 90.3 124.3 91.5 125.2 92.8 126.0 94.1 126.8 95.4 127.5 96.7 128.2 98.1 128.8 99.5 129.3 100.9 129.8 102.4 130.2 103.9 130.5 105.4 130.7 106.9 130.8 108.4 130.7 109.9 130.6 111.3 130.3 112.8 129.9 114.2 129.5 115.6 128.9 117.0 128.3 118.3 127.6 119.7 126.9 120.9 126.1 122.2 125.3 123.4 124.4 124.7 123.5 125.8 122.6 127.0 121.6 128.2 120.7 129.3 119.7 130.4 118.7 131.5 117.7 132.6 116.6 133.7 115.6 134.8 114.6 135.9 113.5 137.0 112.4 138.0 111.4 139.1 110.3 140.1 109.2 141.2 108.1 142.2 107.0 143.2 105.9 144.2 104.8 145.3 103.7 146.3 102.6 147.3 101.5 148.3 100.4 149.3 99.3 150.3 98.1 151.3 97.0 152.3 95.9 153.4 94.8 154.4 93.7 155.4 92.6 156.4 91.5 157.5 90.4 158.5 89.3 159.5 88.2 160.5 87.1 161.6 86.0 162.6 84.9 163.7 83.8 164.7 82.7 165.7 81.6 166.8 80.6 167.8 79.5 168.9 78.4 169.9 77.3 171.0 76.2 172.0 75.2 173.1 74.1 174.1 73.0 175.2 71.9 176.3 70.9 177.3 69.8 178.4 68.7 179.5 67.7 180.6 66.7 181.7 65.7 182.9 64.7 184.1 63.9 185.4 63.1 186.7 62.4 188.1 61.8 189.6 61.4 191.0 61.1 192.5 60.9 194.0 60.9 195.5 61.0 197.0 61.3 198.5 61.7 199.9 62.2 201.2 62.9 202.5 63.8 203.6 64.7 204.8 65.7 205.9 66.7 206.9 67.8 207.9 69.0 208.8 70.1 209.8 71.3 210.7 72.5 211.6 73.7 212.4 74.9 213.3 76.2 214.1 77.4 214.9 78.7 215.7 80.0 216.4 81.3 217.2 82.6 217.9 84.0 218.6 85.3 219.3 86.6 219.9 88.0 220.6 89.3 221.2 90.7 221.9 92.1 222.5 93.4 223.1 94.8 223.7 96.2 224.3 97.6 224.9 99.0 225.4 100.4 226.0 101.7 226.6 103.1 227.2 104.5 227.8 105.9 228.3 107.3 228.9 108.7 229.5 110.1 230.0 111.5 230.6 112.9 231.2 114.3 231.7 115.7 232.3 117.1 232.9 118.5 233.4 119.9 234.0 121.3 234.6 122.7 235.1 124.1 235.7 125.5 236.3 126.8 236.8 128.2 237.4 129.6 237.9 131.0 238.5 132.4 239.1 133.8 239.7 135.2 240.2 136.6 240.8 138.0 241.4 139.4 241.9 140.8 242.5 142.2 243.1 143.6 243.7 145.0 244.3 146.3 244.8 147.7 245.4 149.1 246.0 150.5 246.6 151.9 247.2 153.3 247.8 154.7 248.4 156.0 249.0 157.4 249.6 158.8 250.2 160.2 250.8 161.6 251.4 162.9 252.0 164.3 252.7 165.7 253.3 167.0 253.9 168.4 254.6 169.8 255.2 171.1 255.9 172.5 256.6 173.8 257.3 175.1 258.0 176.5 258.8 177.8 259.6 179.0 260.4 180.3 261.2 181.6 262.1 182.8 263.0 184.0 264.0 185.1 265.0 186.3 266.0 187.4 267.1 188.4 268.2 189.4 269.4 190.4 270.6 191.3 271.8 192.2 273.0 193.1 274.3 193.9 275.6 194.7 276.9 195.4 278.2 196.1 279.6 196.7 280.9 197.4 282.3 197.9 283.7 198.5 285.2 199.0 286.6 199.4 288.0 199.9 289.5 200.2 291.0 200.6 292.4 200.9 293.9 201.2 295.4 201.4 296.9 201.6 298.4 201.8 299.9 201.9 301.4 202.1 302.9 202.1 304.4 202.2 305.9 202.3 307.4 202.3 308.9 202.3 310.4 202.3 311.9 202.3 313.4 202.3 314.9 202.3 316.4 202.2 317.9 202.2 319.4 202.1 320.9 202.1 322.5 202.0 324.0 202.0 325.5 201.9 327.0 201.9 328.5 201.9 330.0 201.8 331.5 201.8 333.0 201.8 334.5 201.9 336.0 201.9 337.5 202.0 339.0 202.0 340.5 202.1 342.0 202.3 343.5 202.4 345.0 202.6 346.5 202.8 348.0 202.9 349.5 203.1 351.0 203.3 352.5 203.5 354.0 203.7 355.5 203.8 357.0 204.0 358.5 204.1 360.0 204.1 361.5 204.2 363.0 204.2 364.5 204.3 366.0 204.3 367.5 204.3 369.0 204.3 370.5 204.3 372.0 204.4 373.5 204.4 375.0 204.5 376.5 204.5 378.0 204.7 379.5 204.8 381.0 205.0 382.5 205.2 384.0 205.5 385.5 205.8 387.0 206.1 388.4 206.4 389.9 206.8 391.3 207.2 392.8 207.7 394.2 208.1 395.6 208.6 397.0 209.1 398.5 209.6 399.9 210.2 401.3 210.7 402.7 211.3 404.1 211.8 405.4 212.4 406.8 213.0 408.2 213.6 409.6 214.2 411.0 214.8 412.4 215.4 413.7 216.0 415.1 216.6 416.5 217.2 417.9 217.8 419.3 218.4 420.7 218.9 422.1 219.5 423.5 220.0 424.9 220.6 426.3 221.1 427.7 221.6 429.2 222.0 430.6 222.5 432.0 222.9 433.5 223.3 435.0 223.7 436.4 224.0 437.9 224.3 439.4 224.5 440.9 224.8 442.4 225.0 443.9 225.2 445.4 225.3 446.8 225.5 448.3 225.6 449.8 225.8 451.3 225.9 452.9 226.0 454.4 226.1 455.9 226.2 457.4 226.4 458.9 226.5 460.4 226.6 461.9 226.8 463.3 226.9 464.8 227.1 466.3 227.3 467.8 227.5 469.3 227.7 470.8 227.9 472.3 228.2 473.8 228.4 475.3 228.6 476.8 228.9 478.2 229.1 479.7 229.4 481.2 229.6 482.7 229.9 484.2 230.2 485.7 230.4 487.1 230.7 488.6 231.0 490.1 231.2 491.6 231.5 493.1 231.7 494.6 232.0 496.0 232.2 497.5 232.5 499.0 232.7 500.5 233.0 502.0 233.2 503.5 233.4 505.0 233.6 506.5 233.8 508.0 234.0 509.5 234.2 511.0 234.3 512.4 234.5 513.9 234.6 515.4 234.8 516.9 234.9 518.5 235.0 520.0 235.0 521.5 235.1 523.0 235.2 524.5 235.2 526.0 235.2 527.5 235.2 529.0 235.1 530.5 235.1 532.0 235.0 533.5 234.9 535.0 234.8" fill="none" stroke="#1a1ad0" stroke-width="1.8" stroke-linejoin="round"/>
<path d="M57.7 46.4L58.0 47.9 58.3 49.4 58.6 50.9 59.0 52.3 59.4 53.8 59.8 55.2 60.2 56.7 60.6 58.1 61.0 59.6 61.5 61.0 62.0 62.4 62.5 63.9 62.9 65.3 63.5 66.7 64.0 68.1 64.5 69.5 65.0 70.9 65.5 72.3 66.1 73.7 66.6 75.2 67.1 76.6 67.7 78.0 68.2 79.4 68.7 80.8 69.2 82.2 69.7 83.6 70.3 85.0 70.8 86.4 71.3 87.8 71.9 89.2 72.4 90.6 73.0 92.0 73.6 93.4 74.2 94.8 74.8 96.2 75.5 97.5 76.2 98.8 76.9 100.2 77.7 101.5 78.5 102.8 79.3 104.0 80.2 105.2 81.1 106.4 82.0 107.6 83.0 108.8 84.0 109.9 85.1 110.9 86.2 111.9 87.3 112.9 88.5 113.9 89.7 114.8 90.9 115.6 92.2 116.4 93.5 117.2 94.8 117.9 96.2 118.6 97.5 119.2 98.9 119.8 100.3 120.3 101.8 120.7 103.2 121.1 104.7 121.4 106.2 121.7 107.7 121.8 109.2 121.9 110.7 121.9 112.2 121.9 113.7 121.7 115.2 121.5 116.6 121.1 118.1 120.7 119.5 120.1 120.9 119.5 122.2 118.8 123.5 118.0 124.7 117.1 125.9 116.2 127.0 115.2 128.1 114.2 129.1 113.1 130.2 112.0 131.2 110.9 132.2 109.8 133.2 108.6 134.2 107.5 135.2 106.4 136.2 105.3 137.3 104.2 138.3 103.2 139.4 102.1 140.5 101.1 141.6 100.0 142.7 99.0 143.8 98.0 144.9 97.0 146.0 95.9 147.1 94.9 148.1 93.8 149.2 92.8 150.3 91.7 151.3 90.6 152.4 89.6 153.4 88.5 154.5 87.4 155.5 86.3 156.5 85.2 157.6 84.1 158.6 83.0 159.6 81.9 160.6 80.7 161.6 79.6 162.6 78.5 163.6 77.4 164.6 76.2 165.6 75.1 166.6 74.0 167.6 72.8 168.6 71.7 169.6 70.6 170.6 69.5 171.6 68.4 172.6 67.2 173.6 66.1 174.6 65.0 175.7 64.0 176.7 62.9 177.8 61.8 178.8 60.7 179.9 59.7 181.0 58.6 182.1 57.6 183.3 56.7 184.5 55.7 185.7 54.8 186.9 54.0 188.3 53.3 189.6 52.7 191.1 52.3 192.5 52.0 194.1 51.9 195.5 52.0 197.0 52.3 198.5 52.8 199.8 53.4 201.2 54.0 202.5 54.8 203.7 55.6 205.0 56.5 206.1 57.4 207.3 58.4 208.3 59.5 209.4 60.6 210.4 61.7 211.3 62.9 212.3 64.0 213.2 65.3 214.0 66.5 214.8 67.8 215.6 69.0 216.4 70.3 217.2 71.6 217.9 72.9 218.6 74.3 219.3 75.6 220.0 77.0 220.6 78.3 221.3 79.7 221.9 81.0 222.5 82.4 223.1 83.8 223.7 85.2 224.3 86.5 224.9 87.9 225.5 89.3 226.1 90.7 226.7 92.1 227.3 93.5 227.9 94.9 228.4 96.2 229.0 97.6 229.6 99.0 230.2 100.4 230.9 101.8 231.5 103.1 232.1 104.5 232.8 105.8 233.4 107.2 234.1 108.6 234.7 109.9 235.4 111.3 236.0 112.6 236.7 114.0 237.3 115.3 238.0 116.7 238.6 118.0 239.3 119.4 239.9 120.8 240.5 122.1 241.1 123.5 241.7 124.9 242.3 126.3 242.9 127.7 243.4 129.1 244.0 130.5 244.5 131.9 245.0 133.3 245.6 134.7 246.1 136.1 246.6 137.6 247.1 139.0 247.6 140.4 248.1 141.8 248.6 143.2 249.1 144.7 249.6 146.1 250.1 147.5 250.6 148.9 251.1 150.3 251.6 151.7 252.2 153.1 252.7 154.5 253.3 155.9 253.8 157.3 254.4 158.7 255.0 160.1 255.6 161.5 256.3 162.8 256.9 164.2 257.6 165.5 258.3 166.9 259.0 168.2 259.7 169.5 260.5 170.8 261.3 172.1 262.1 173.3 263.0 174.6 263.9 175.8 264.8 177.0 265.8 178.1 266.8 179.2 267.8 180.3 268.9 181.3 270.1 182.3 271.3 183.3 272.5 184.1 273.7 185.0 275.0 185.7 276.4 186.4 277.7 187.1 279.1 187.7 280.5 188.2 281.9 188.7 283.4 189.2 284.8 189.6 286.3 190.0 287.7 190.3 289.2 190.6 290.7 190.9 292.2 191.2 293.6 191.4 295.1 191.6 296.6 191.8 298.1 192.0 299.6 192.2 301.1 192.3 302.6 192.4 304.1 192.6 305.6 192.7 307.1 192.8 308.6 192.9 310.1 192.9 311.6 193.0 313.1 193.0 314.6 193.1 316.1 193.1 317.6 193.2 319.1 193.2 320.7 193.2 322.2 193.2 323.7 193.2 325.2 193.2 326.7 193.2 328.2 193.2 329.7 193.2 331.2 193.2 332.7 193.2 334.2 193.2 335.7 193.3 337.2 193.3 338.7 193.3 340.2 193.3 341.7 193.3 343.2 193.3 344.7 193.4 346.2 193.4 347.7 193.5 349.2 193.5 350.7 193.6 352.2 193.7 353.8 193.8 355.3 193.9 356.8 194.0 358.3 194.1 359.8 194.2 361.2 194.4 362.7 194.6 364.2 194.8 365.7 195.0 367.2 195.2 368.7 195.4 370.2 195.7 371.7 195.9 373.2 196.2 374.6 196.5 376.1 196.8 377.6 197.1 379.1 197.4 380.5 197.7 382.0 198.0 383.5 198.4 384.9 198.7 386.4 199.1 387.8 199.4 389.3 199.8 390.8 200.1 392.2 200.5 393.7 200.9 395.1 201.3 396.6 201.6 398.1 202.0 399.5 202.4 401.0 202.8 402.4 203.2 403.9 203.6 405.3 204.0 406.8 204.4 408.2 204.8 409.7 205.2 411.1 205.6 412.6 206.0 414.0 206.4 415.5 206.8 416.9 207.2 418.4 207.6 419.8 208.0 421.3 208.4 422.7 208.8 424.2 209.2 425.6 209.6 427.1 210.0 428.5 210.4 430.0 210.8 431.4 211.2 432.9 211.5 434.3 211.9 435.8 212.3 437.3 212.7 438.7 213.1 440.2 213.5 441.6 213.9 443.1 214.3 444.5 214.6 446.0 215.0 447.4 215.4 448.9 215.8 450.4 216.1 451.8 216.5 453.3 216.9 454.7 217.2 456.2 217.6 457.7 218.0 459.1 218.3 460.6 218.7 462.1 219.0 463.5 219.3 465.0 219.7 466.5 220.0 467.9 220.3 469.4 220.7 470.9 221.0 472.3 221.3 473.8 221.6 475.3 221.9 476.8 222.2 478.2 222.5 479.7 222.8 481.2 223.1 482.7 223.3 484.1 223.6 485.6 223.9 487.1 224.1 488.6 224.4 490.1 224.6 491.6 224.9 493.1 225.1 494.5 225.3 496.0 225.5 497.5 225.8 499.0 226.0 500.5 226.2 502.0 226.4 503.5 226.5 505.0 226.7 506.5 226.9 508.0 227.0 509.5 227.2 511.0 227.3 512.5 227.5 514.0 227.6 515.5 227.7 517.0 227.8 518.5 227.9 520.0 228.0 521.5 228.1 523.0 228.1 524.5 228.2 526.0 228.3 527.5 228.3 529.0 228.3 530.5 228.4 532.0 228.4 533.5 228.4 535.0 228.4" fill="none" stroke="#22e022" stroke-width="1.8" stroke-linejoin="round"/>
<path d="M57.5 35.1L58.0 36.5 58.4 37.9 58.8 39.4 59.2 40.8 59.6 42.3 60.0 43.7 60.5 45.2 60.9 46.6 61.3 48.1 61.7 49.5 62.1 51.0 62.5 52.4 62.9 53.9 63.3 55.3 63.7 56.8 64.1 58.2 64.5 59.7 65.0 61.1 65.4 62.6 65.8 64.0 66.3 65.5 66.7 66.9 67.2 68.3 67.7 69.8 68.2 71.2 68.6 72.6 69.2 74.0 69.7 75.5 70.2 76.9 70.7 78.3 71.3 79.7 71.9 81.1 72.4 82.5 73.0 83.8 73.7 85.2 74.3 86.6 74.9 87.9 75.6 89.3 76.3 90.6 77.0 92.0 77.7 93.3 78.5 94.6 79.2 95.9 80.0 97.2 80.8 98.5 81.6 99.7 82.4 101.0 83.3 102.2 84.2 103.4 85.1 104.6 86.1 105.8 87.0 107.0 88.1 108.1 89.1 109.2 90.2 110.2 91.3 111.2 92.5 112.1 93.7 113.0 95.0 113.9 96.3 114.6 97.6 115.3 99.0 115.9 100.4 116.4 101.8 116.9 103.3 117.2 104.8 117.4 106.3 117.5 107.8 117.6 109.3 117.6 110.8 117.5 112.3 117.3 113.8 117.0 115.3 116.7 116.7 116.3 118.1 115.8 119.5 115.2 120.9 114.6 122.3 113.9 123.6 113.2 124.8 112.4 126.1 111.5 127.3 110.7 128.5 109.7 129.7 108.8 130.8 107.8 132.0 106.8 133.1 105.8 134.2 104.7 135.2 103.7 136.3 102.6 137.3 101.5 138.4 100.4 139.4 99.3 140.4 98.2 141.4 97.1 142.4 96.0 143.4 94.9 144.5 93.8 145.5 92.6 146.5 91.5 147.5 90.4 148.5 89.3 149.5 88.2 150.6 87.1 151.6 86.0 152.6 84.9 153.6 83.8 154.7 82.7 155.7 81.6 156.7 80.5 157.7 79.4 158.8 78.3 159.8 77.2 160.8 76.1 161.9 75.0 162.9 73.9 163.9 72.8 165.0 71.7 166.0 70.6 167.1 69.5 168.1 68.4 169.2 67.3 170.2 66.3 171.3 65.2 172.3 64.1 173.4 63.0 174.4 61.9 175.5 60.9 176.5 59.8 177.6 58.7 178.7 57.7 179.7 56.6 180.8 55.6 182.0 54.6 183.1 53.6 184.3 52.6 185.5 51.7 186.7 50.9 188.0 50.2 189.4 49.5 190.8 49.0 192.3 48.6 193.8 48.3 195.3 48.3 196.8 48.4 198.2 48.7 199.7 49.2 201.1 49.7 202.4 50.4 203.8 51.1 205.0 51.9 206.2 52.8 207.4 53.8 208.5 54.8 209.5 55.9 210.5 57.1 211.5 58.2 212.4 59.4 213.3 60.7 214.1 61.9 214.9 63.2 215.7 64.5 216.5 65.8 217.2 67.1 217.9 68.4 218.7 69.7 219.4 71.0 220.1 72.4 220.8 73.7 221.5 75.0 222.2 76.4 222.9 77.7 223.5 79.0 224.2 80.4 224.9 81.7 225.6 83.1 226.2 84.4 226.9 85.8 227.5 87.2 228.2 88.5 228.8 89.9 229.5 91.2 230.1 92.6 230.7 94.0 231.3 95.4 232.0 96.7 232.6 98.1 233.2 99.5 233.8 100.9 234.4 102.3 234.9 103.7 235.5 105.1 236.1 106.4 236.6 107.8 237.2 109.2 237.7 110.7 238.3 112.1 238.8 113.5 239.4 114.9 239.9 116.3 240.4 117.7 240.9 119.1 241.4 120.5 241.9 122.0 242.4 123.4 242.9 124.8 243.4 126.2 243.9 127.7 244.3 129.1 244.8 130.5 245.3 132.0 245.7 133.4 246.2 134.8 246.7 136.3 247.1 137.7 247.6 139.1 248.1 140.6 248.5 142.0 249.0 143.4 249.5 144.8 250.0 146.3 250.5 147.7 251.0 149.1 251.6 150.5 252.1 151.9 252.6 153.3 253.2 154.7 253.8 156.1 254.4 157.5 255.0 158.9 255.6 160.3 256.2 161.6 256.9 163.0 257.6 164.3 258.3 165.7 259.0 167.0 259.7 168.3 260.5 169.6 261.3 170.9 262.1 172.1 262.9 173.4 263.8 174.6 264.7 175.8 265.6 177.0 266.6 178.2 267.6 179.3 268.6 180.5 269.6 181.5 270.7 182.6 271.8 183.6 273.0 184.6 274.1 185.5 275.3 186.4 276.6 187.3 277.9 188.1 279.2 188.8 280.5 189.5 281.9 190.2 283.3 190.7 284.7 191.3 286.1 191.8 287.5 192.2 289.0 192.6 290.5 192.9 291.9 193.3 293.4 193.5 294.9 193.8 296.4 194.0 297.9 194.2 299.4 194.4 300.9 194.5 302.4 194.6 303.9 194.7 305.4 194.8 306.9 194.9 308.4 194.9 309.9 195.0 311.4 195.0 312.9 195.0 314.4 195.0 315.9 195.0 317.4 194.9 319.0 194.9 320.5 194.9 322.0 194.8 323.5 194.8 325.0 194.7 326.5 194.7 328.0 194.6 329.5 194.6 331.0 194.5 332.5 194.5 334.0 194.4 335.5 194.4 337.0 194.4 338.5 194.4 340.0 194.4 341.5 194.4 343.1 194.4 344.6 194.5 346.1 194.5 347.6 194.6 349.1 194.7 350.6 194.8 352.1 195.0 353.6 195.1 355.1 195.3 356.6 195.4 358.1 195.6 359.6 195.8 361.1 196.0 362.5 196.3 364.0 196.5 365.5 196.7 367.0 197.0 368.5 197.3 370.0 197.5 371.5 197.8 372.9 198.1 374.4 198.4 375.9 198.7 377.4 199.0 378.8 199.4 380.3 199.7 381.8 200.0 383.2 200.4 384.7 200.7 386.2 201.1 387.6 201.4 389.1 201.8 390.5 202.2 392.0 202.5 393.5 202.9 394.9 203.3 396.4 203.7 397.8 204.1 399.3 204.4 400.8 204.8 402.2 205.2 403.7 205.6 405.1 206.0 406.6 206.4 408.0 206.8 409.5 207.2 411.0 207.5 412.4 207.9 413.9 208.3 415.3 208.7 416.8 209.1 418.2 209.5 419.7 209.9 421.1 210.3 422.6 210.7 424.0 211.1 425.5 211.5 427.0 211.8 428.4 212.2 429.9 212.6 431.3 213.0 432.8 213.4 434.2 213.8 435.7 214.2 437.2 214.5 438.6 214.9 440.1 215.3 441.5 215.7 443.0 216.1 444.5 216.4 445.9 216.8 447.4 217.2 448.8 217.5 450.3 217.9 451.8 218.3 453.2 218.6 454.7 219.0 456.2 219.3 457.6 219.7 459.1 220.0 460.6 220.4 462.0 220.7 463.5 221.1 465.0 221.4 466.4 221.7 467.9 222.0 469.4 222.4 470.8 222.7 472.3 223.0 473.8 223.3 475.3 223.6 476.7 223.9 478.2 224.2 479.7 224.5 481.2 224.8 482.7 225.1 484.1 225.3 485.6 225.6 487.1 225.9 488.6 226.1 490.1 226.4 491.6 226.6 493.1 226.9 494.5 227.1 496.0 227.3 497.5 227.6 499.0 227.8 500.5 228.0 502.0 228.2 503.5 228.4 505.0 228.6 506.5 228.8 508.0 228.9 509.5 229.1 511.0 229.3 512.5 229.4 514.0 229.6 515.5 229.7 517.0 229.9 518.5 230.0 520.0 230.1 521.5 230.2 523.0 230.3 524.5 230.4 526.0 230.5 527.5 230.6 529.0 230.6 530.5 230.7 532.0 230.8 533.5 230.8 535.0 230.8" fill="none" stroke="#e020e0" stroke-width="1.8" stroke-linejoin="round"/>
<path d="M58.1 15.0L58.4 16.5 58.6 18.0 58.9 19.4 59.3 20.9 59.6 22.4 59.9 23.8 60.3 25.3 60.6 26.8 61.0 28.2 61.4 29.7 61.8 31.1 62.2 32.6 62.6 34.0 63.1 35.5 63.5 36.9 63.9 38.3 64.4 39.8 64.8 41.2 65.3 42.6 65.8 44.1 66.2 45.5 66.7 46.9 67.2 48.4 67.7 49.8 68.2 51.2 68.7 52.6 69.2 54.0 69.6 55.5 70.1 56.9 70.6 58.3 71.1 59.7 71.6 61.2 72.1 62.6 72.6 64.0 73.1 65.4 73.6 66.9 74.1 68.3 74.6 69.7 75.1 71.1 75.6 72.5 76.2 73.9 76.8 75.3 77.3 76.7 77.9 78.1 78.5 79.4 79.2 80.8 79.8 82.2 80.5 83.5 81.2 84.8 82.0 86.2 82.7 87.5 83.5 88.7 84.3 90.0 85.1 91.3 86.0 92.5 86.9 93.7 87.8 94.9 88.8 96.0 89.8 97.1 90.9 98.2 92.0 99.2 93.1 100.2 94.3 101.1 95.6 102.0 96.9 102.7 98.2 103.4 99.6 104.0 101.0 104.5 102.5 104.8 104.0 105.1 105.5 105.2 107.0 105.2 108.5 105.2 110.0 105.1 111.5 104.9 112.9 104.6 114.4 104.3 115.9 103.9 117.3 103.4 118.7 102.9 120.1 102.3 121.4 101.6 122.8 100.9 124.1 100.2 125.4 99.4 126.6 98.5 127.8 97.6 129.0 96.7 130.2 95.8 131.3 94.8 132.4 93.7 133.5 92.7 134.5 91.6 135.6 90.5 136.6 89.4 137.6 88.3 138.6 87.2 139.6 86.0 140.6 84.9 141.5 83.8 142.5 82.6 143.5 81.5 144.5 80.3 145.4 79.2 146.4 78.1 147.4 76.9 148.5 75.8 149.5 74.7 150.5 73.6 151.5 72.5 152.5 71.4 153.6 70.3 154.6 69.2 155.7 68.1 156.7 67.0 157.8 66.0 158.8 64.9 159.9 63.8 160.9 62.7 162.0 61.7 163.0 60.6 164.1 59.5 165.1 58.4 166.2 57.4 167.2 56.3 168.3 55.2 169.3 54.1 170.3 53.0 171.4 51.9 172.4 50.8 173.4 49.7 174.5 48.7 175.5 47.6 176.6 46.5 177.6 45.4 178.7 44.4 179.8 43.3 180.9 42.3 182.0 41.2 183.1 40.3 184.3 39.3 185.5 38.4 186.7 37.6 188.0 36.8 189.4 36.2 190.8 35.7 192.3 35.5 193.8 35.4 195.3 35.6 196.8 35.9 198.2 36.3 199.6 36.9 201.0 37.6 202.3 38.3 203.6 39.1 204.8 40.0 206.0 40.9 207.1 41.9 208.3 42.8 209.4 43.9 210.4 44.9 211.5 46.0 212.5 47.2 213.4 48.3 214.4 49.5 215.3 50.7 216.2 51.9 217.0 53.2 217.8 54.4 218.6 55.7 219.4 57.0 220.1 58.3 220.9 59.6 221.6 60.9 222.3 62.3 223.0 63.6 223.6 65.0 224.3 66.3 224.9 67.7 225.5 69.1 226.1 70.5 226.7 71.8 227.3 73.2 227.9 74.6 228.4 76.0 229.0 77.4 229.6 78.8 230.1 80.2 230.7 81.6 231.2 83.0 231.8 84.4 232.3 85.8 232.8 87.2 233.3 88.6 233.9 90.0 234.4 91.5 234.9 92.9 235.4 94.3 235.9 95.7 236.4 97.1 236.9 98.5 237.4 100.0 237.9 101.4 238.4 102.8 238.9 104.2 239.3 105.7 239.8 107.1 240.3 108.5 240.8 109.9 241.3 111.4 241.7 112.8 242.2 114.2 242.7 115.6 243.2 117.1 243.7 118.5 244.1 119.9 244.6 121.4 245.1 122.8 245.6 124.2 246.1 125.6 246.6 127.1 247.0 128.5 247.5 129.9 248.0 131.3 248.5 132.7 249.0 134.2 249.5 135.6 250.1 137.0 250.6 138.4 251.1 139.8 251.6 141.2 252.1 142.6 252.7 144.0 253.2 145.4 253.8 146.9 254.3 148.3 254.9 149.7 255.4 151.0 256.0 152.4 256.6 153.8 257.2 155.2 257.8 156.6 258.4 158.0 259.0 159.3 259.7 160.7 260.4 162.0 261.1 163.4 261.8 164.7 262.5 166.0 263.3 167.3 264.1 168.6 264.9 169.9 265.7 171.1 266.6 172.3 267.5 173.5 268.4 174.7 269.4 175.8 270.4 176.9 271.6 177.9 272.7 178.9 274.0 179.7 275.2 180.5 276.6 181.2 278.0 181.8 279.3 182.4 280.8 182.9 282.2 183.3 283.7 183.7 285.1 184.1 286.6 184.4 288.1 184.7 289.6 185.0 291.0 185.2 292.5 185.4 294.0 185.6 295.5 185.8 297.0 186.0 298.5 186.2 300.0 186.4 301.5 186.5 303.0 186.7 304.5 186.8 306.0 187.0 307.5 187.1 309.0 187.2 310.5 187.3 312.0 187.4 313.5 187.5 315.0 187.6 316.5 187.7 318.0 187.8 319.5 187.9 321.0 188.0 322.5 188.1 324.0 188.2 325.5 188.2 327.0 188.3 328.5 188.4 330.0 188.4 331.5 188.5 333.0 188.6 334.5 188.6 336.0 188.7 337.5 188.8 339.0 188.8 340.5 188.9 342.0 189.0 343.5 189.0 345.0 189.1 346.6 189.2 348.1 189.3 349.6 189.3 351.1 189.4 352.6 189.5 354.1 189.6 355.6 189.7 357.1 189.8 358.6 190.0 360.1 190.1 361.6 190.2 363.1 190.4 364.6 190.5 366.1 190.7 367.5 190.9 369.0 191.1 370.5 191.3 372.0 191.5 373.5 191.7 375.0 192.0 376.5 192.3 377.9 192.6 379.4 192.9 380.9 193.2 382.4 193.5 383.8 193.9 385.3 194.3 386.7 194.6 388.2 195.0 389.6 195.4 391.1 195.9 392.5 196.3 394.0 196.7 395.4 197.1 396.9 197.6 398.3 198.0 399.7 198.4 401.2 198.9 402.6 199.3 404.1 199.7 405.5 200.2 406.9 200.6 408.4 201.0 409.8 201.5 411.3 201.9 412.7 202.3 414.2 202.7 415.6 203.2 417.0 203.6 418.5 204.0 419.9 204.4 421.4 204.8 422.8 205.2 424.3 205.7 425.7 206.1 427.2 206.5 428.6 206.9 430.1 207.3 431.5 207.7 433.0 208.1 434.4 208.5 435.9 208.9 437.3 209.3 438.8 209.7 440.2 210.1 441.7 210.5 443.1 210.8 444.6 211.2 446.1 211.6 447.5 212.0 449.0 212.3 450.4 212.7 451.9 213.1 453.4 213.4 454.8 213.8 456.3 214.1 457.7 214.5 459.2 214.8 460.7 215.2 462.1 215.5 463.6 215.9 465.1 216.2 466.5 216.5 468.0 216.9 469.5 217.2 471.0 217.5 472.4 217.8 473.9 218.1 475.4 218.4 476.8 218.7 478.3 219.0 479.8 219.3 481.3 219.6 482.8 219.9 484.2 220.2 485.7 220.4 487.2 220.7 488.7 221.0 490.2 221.2 491.6 221.5 493.1 221.7 494.6 222.0 496.1 222.2 497.6 222.4 499.1 222.7 500.6 222.9 502.0 223.1 503.5 223.3 505.0 223.5 506.5 223.7 508.0 223.9 509.5 224.1 511.0 224.3 512.5 224.4 514.0 224.6 515.5 224.8 517.0 224.9 518.5 225.1 520.0 225.2 521.5 225.3 523.0 225.5 524.5 225.6 526.0 225.7 527.5 225.8 529.0 225.9 530.5 226.0 532.0 226.1 533.5 226.2 535.0 226.2" fill="none" stroke="#eeee28" stroke-width="1.8" stroke-linejoin="round"/>
<path d="M48.1 8.0H543.5" stroke="#848484" stroke-width="1.6" fill="none"/>
<path d="M543.5 8.0V259.4" stroke="#c4c4c4" stroke-width="1.3" fill="none"/>
<path d="M48.1 7.3V259.4H543.5" fill="none" stroke="#4a4a4a" stroke-width="1.4"/>
<path d="M48.1 247.30h9.6 M48.1 241.96h4.7 M48.1 236.61h4.7 M48.1 231.27h4.7 M48.1 225.92h4.7 M48.1 220.58h4.7 M48.1 215.23h4.7 M48.1 209.89h4.7 M48.1 204.54h4.7 M48.1 199.19h4.7 M48.1 193.85h9.6 M48.1 188.51h4.7 M48.1 183.16h4.7 M48.1 177.81h4.7 M48.1 172.47h4.7 M48.1 167.12h4.7 M48.1 161.78h4.7 M48.1 156.44h4.7 M48.1 151.09h4.7 M48.1 145.75h4.7 M48.1 140.40h9.6 M48.1 135.06h4.7 M48.1 129.71h4.7 M48.1 124.37h4.7 M48.1 119.02h4.7 M48.1 113.68h4.7 M48.1 108.33h4.7 M48.1 102.99h4.7 M48.1 97.64h4.7 M48.1 92.30h4.7 M48.1 86.95h9.6 M48.1 81.60h4.7 M48.1 76.26h4.7 M48.1 70.91h4.7 M48.1 65.57h4.7 M48.1 60.22h4.7 M48.1 54.88h4.7 M48.1 49.54h4.7 M48.1 44.19h4.7 M48.1 38.84h4.7 M48.1 33.50h9.6 M48.1 28.16h4.7 M48.1 22.81h4.7 M48.1 17.47h4.7 M48.1 12.12h4.7 M55.00 259.4v-7.5 M66.90 259.4v-3.5 M78.80 259.4v-3.5 M90.70 259.4v-3.5 M102.60 259.4v-3.5 M114.50 259.4v-7.5 M126.40 259.4v-3.5 M138.30 259.4v-3.5 M150.20 259.4v-3.5 M162.10 259.4v-3.5 M174.00 259.4v-7.5 M185.90 259.4v-3.5 M197.80 259.4v-3.5 M209.70 259.4v-3.5 M221.60 259.4v-3.5 M233.50 259.4v-7.5 M245.40 259.4v-3.5 M257.30 259.4v-3.5 M269.20 259.4v-3.5 M281.10 259.4v-3.5 M293.00 259.4v-7.5 M304.90 259.4v-3.5 M316.80 259.4v-3.5 M328.70 259.4v-3.5 M340.60 259.4v-3.5 M352.50 259.4v-7.5 M364.40 259.4v-3.5 M376.30 259.4v-3.5 M388.20 259.4v-3.5 M400.10 259.4v-3.5 M412.00 259.4v-7.5 M423.90 259.4v-3.5 M435.80 259.4v-3.5 M447.70 259.4v-3.5 M459.60 259.4v-3.5 M471.50 259.4v-7.5 M483.40 259.4v-3.5 M495.30 259.4v-3.5 M507.20 259.4v-3.5 M519.10 259.4v-3.5 M531.00 259.4v-7.5" stroke="#333" stroke-width="1.3" fill="none"/>
<g font-family="Liberation Sans" fill="#1e1e1e" stroke="#1e1e1e" stroke-width="0.3" style="filter:opacity(1)">
<text transform="translate(46.6 37.5) scale(1.22 1)" text-anchor="end" font-size="12.1">0.08</text>
<text transform="translate(46.6 90.9) scale(1.22 1)" text-anchor="end" font-size="12.1">0.06</text>
<text transform="translate(46.6 144.4) scale(1.22 1)" text-anchor="end" font-size="12.1">0.04</text>
<text transform="translate(46.6 197.9) scale(1.22 1)" text-anchor="end" font-size="12.1">0.02</text>
<text transform="translate(47.4 251.3) scale(1.22 1)" text-anchor="end" font-size="12.1">0.</text>
<text transform="translate(55.2 271.6) scale(1.23 1)" text-anchor="middle" font-size="12">220</text>
<text transform="translate(114.7 271.6) scale(1.23 1)" text-anchor="middle" font-size="12">240</text>
<text transform="translate(174.2 271.6) scale(1.23 1)" text-anchor="middle" font-size="12">260</text>
<text transform="translate(233.7 271.6) scale(1.23 1)" text-anchor="middle" font-size="12">280</text>
<text transform="translate(293.2 271.6) scale(1.23 1)" text-anchor="middle" font-size="12">300</text>
<text transform="translate(352.7 271.6) scale(1.23 1)" text-anchor="middle" font-size="12">320</text>
<text transform="translate(412.2 271.6) scale(1.23 1)" text-anchor="middle" font-size="12">340</text>
<text transform="translate(471.7 271.6) scale(1.23 1)" text-anchor="middle" font-size="12">360</text>
<text transform="translate(531.2 271.6) scale(1.23 1)" text-anchor="middle" font-size="12">380</text>
<text transform="translate(243.1 285.6) scale(1.245 1)" font-size="12">Wavelength, nm</text>
<text transform="translate(12.9 133.8) rotate(-90)" text-anchor="middle" font-size="11.6">Absorbance</text>
</g>
<path d="M188 76L192.4 40" stroke="#111" stroke-width="1.4" fill="none"/>
<path d="M193.6 32.6L189.6 42.8L196.6 43.4Z" fill="#000"/>
<g font-family="Liberation Sans" font-weight="bold" fill="#000" stroke="#000" stroke-width="0.5" style="filter:opacity(1)">
<text transform="translate(187.6 30.2) scale(1.17 1)" font-size="14.1">F</text>
<text transform="translate(180.9 90.3) scale(1.13 1)" font-size="14.6">A</text>
</g>
</svg>
</body></html>
